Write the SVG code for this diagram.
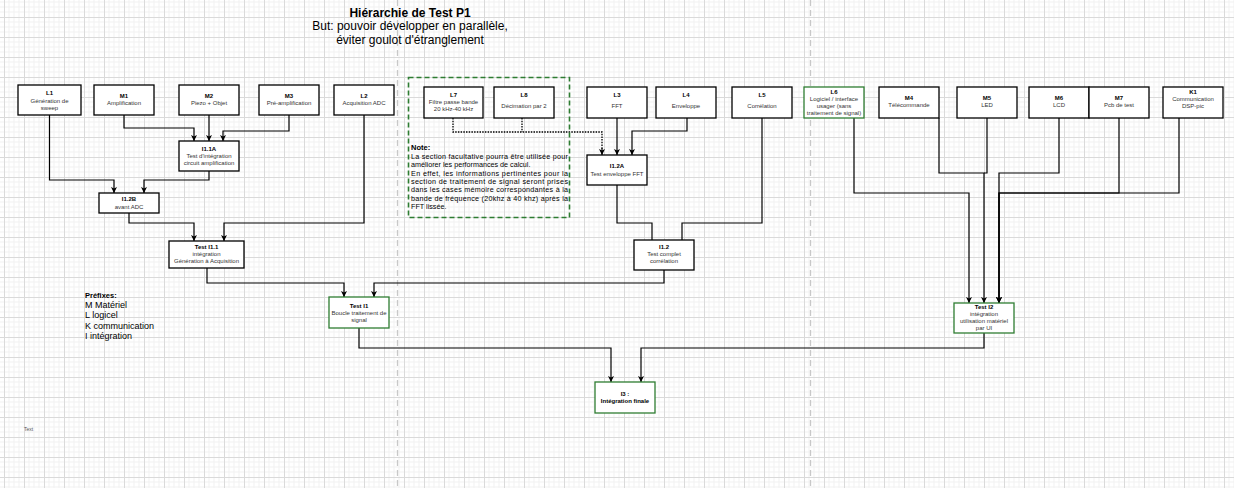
<svg xmlns="http://www.w3.org/2000/svg" width="1234" height="488" viewBox="0 0 1234 488">
<style>
text{font-family:"Liberation Sans",Arial,sans-serif}
.nb{fill:#fff;stroke:#000;stroke-width:1.3}
.ng{fill:#fff;stroke:#2e7d32;stroke-width:1.3}
.t{font-size:6px;fill:#333;text-anchor:middle}
.tb{font-size:6px;fill:#000;font-weight:bold;text-anchor:middle}
.c{fill:none;stroke:#000;stroke-width:1.2}
.ca{fill:none;stroke:#000;stroke-width:1.2;marker-end:url(#arr)}
.cd{fill:none;stroke:#000;stroke-width:1.3;stroke-dasharray:1.5 1.2}
.nt{font-size:7.2px;fill:#000}
.sep{stroke:#c8c8c8;stroke-width:1.3;stroke-dasharray:6 4}
</style>
<defs>
<pattern id="grid" x="4" y="17" width="20" height="20" patternUnits="userSpaceOnUse">
<path d="M5,0V20M10,0V20M15,0V20M0,5H20M0,10H20M0,15H20" stroke="#f1f1f1" stroke-width="1" fill="none"/>
<path d="M0.5,0V20M0,0.5H20" stroke="#dadada" stroke-width="1" fill="none"/>
</pattern>
<marker id="arr" markerUnits="userSpaceOnUse" markerWidth="7" markerHeight="7" refX="6" refY="3.5" orient="auto">
<path d="M0,0.5 L6,3.5 L0,6.5 L1.5,3.5 z" fill="#000"/>
</marker>
</defs>
<rect width="1234" height="488" fill="#fff"/>
<rect width="1234" height="488" fill="url(#grid)"/>
<line class="sep" x1="397.5" y1="0" x2="397.5" y2="488"/>
<line class="sep" x1="810.5" y1="0" x2="810.5" y2="488"/>

<g id="title">
<text x="410" y="17" font-size="12" font-weight="bold" text-anchor="middle">Hiérarchie de Test P1</text>
<text x="410" y="30" font-size="12" text-anchor="middle">But: pouvoir développer en parallèle,</text>
<text x="410" y="43.5" font-size="12" text-anchor="middle">éviter goulot d'étranglement</text>
</g>

<g id="connectors">
<path class="ca" d="M49.5,115 V180 H114 V193"/>
<path class="ca" d="M124,115 V128 H194 V141"/>
<path class="ca" d="M209,115 V141"/>
<path class="ca" d="M289,115 V131 H223 V141"/>
<path class="ca" d="M209,171 V180 H144 V193"/>
<path class="ca" d="M129,213 V223 H194 V241"/>
<path class="ca" d="M364,115 V223 H224 V241"/>
<path class="ca" d="M207,268 V283 H344 V297"/>
<path class="ca" d="M664,270 V283 H374 V297"/>
<path class="cd" d="M453,118 V132 H602 V149"/>
<path class="ca" d="M602,148 V155"/>
<path class="cd" d="M522,118 V132"/>
<path class="ca" d="M617,118 V155"/>
<path class="ca" d="M687,118 V131 H632 V155"/>
<path class="c" d="M617,185 V223 H652 V240"/>
<path class="c" d="M762,118 V223 H682 V240"/>
<path class="ca" d="M854,118 V193 H969 V303"/>
<path class="ca" d="M939,118 V173 H984 V303"/>
<path class="c" d="M987,118 V173 H984"/>
<path class="ca" d="M1059,118 V173 H999 V303"/>
<path class="ca" d="M1119,118 V193 H999 V303"/>
<path class="ca" d="M1179,118 V193 H999 V303"/>
<path class="ca" d="M359,328 V348 H611 V382"/>
<path class="ca" d="M984,333 V348 H641 V382"/>
</g>

<g id="optional-section">
<rect x="408.5" y="77.5" width="161" height="140" fill="none" stroke="#2e7d32" stroke-width="1.6" stroke-dasharray="5 3"/>
<text x="411" y="150" font-size="7.5" font-weight="bold">Note:</text>
<text class="nt" x="411" y="159" textLength="157" lengthAdjust="spacing">La section facultative pourra être utilisée pour</text>
<text class="nt" x="411" y="167.3">améliorer les performances de calcul.</text>
<text class="nt" x="411" y="175.6" textLength="157" lengthAdjust="spacing">En effet, les informations pertinentes pour la</text>
<text class="nt" x="411" y="183.9" textLength="157" lengthAdjust="spacing">section de traitement de signal seront prises</text>
<text class="nt" x="411" y="192.2" textLength="157" lengthAdjust="spacing">dans les cases mémoire correspondantes à la</text>
<text class="nt" x="411" y="200.5" textLength="157" lengthAdjust="spacing">bande de fréquence (20khz à 40 khz) après la</text>
<text class="nt" x="411" y="208.8">FFT lissée.</text>
</g>

<g id="L1"><rect class="nb" x="18" y="85" width="63" height="30"/><text class="tb" x="49.5" y="95.2">L1</text><text class="t" x="49.5" y="103.4">Génération de</text><text class="t" x="49.5" y="110.2">sweep</text></g>
<g id="M1"><rect class="nb" x="94" y="85" width="60" height="30"/><text class="tb" x="124" y="97.5">M1</text><text class="t" x="124" y="105.2">Amplification</text></g>
<g id="M2"><rect class="nb" x="179" y="85" width="60" height="30"/><text class="tb" x="209" y="97.5">M2</text><text class="t" x="209" y="105.2">Piezo + Objet</text></g>
<g id="M3"><rect class="nb" x="259" y="85" width="60" height="30"/><text class="tb" x="289" y="97.5">M3</text><text class="t" x="289" y="105.2">Pré-amplification</text></g>
<g id="L2"><rect class="nb" x="334" y="85" width="60" height="30"/><text class="tb" x="364" y="97.5">L2</text><text class="t" x="364" y="105.2">Acquisition ADC</text></g>

<g id="L7"><rect class="nb" x="424" y="87" width="59" height="31"/><text class="tb" x="453.5" y="97.2">L7</text><text class="t" x="453.5" y="104.2">Filtre passe bande</text><text class="t" x="453.5" y="111.2">20 kHz-40 kHz</text></g>
<g id="L8"><rect class="nb" x="494" y="87" width="60" height="31"/><text class="tb" x="524" y="97.2">L8</text><text class="t" x="524" y="107.5">Décimation par 2</text></g>
<g id="L3"><rect class="nb" x="587" y="87" width="60" height="31"/><text class="tb" x="617" y="97.2">L3</text><text class="t" x="617" y="107.8">FFT</text></g>
<g id="L4"><rect class="nb" x="656" y="87" width="60" height="31"/><text class="tb" x="686" y="97.2">L4</text><text class="t" x="686" y="107.8">Enveloppe</text></g>
<g id="L5"><rect class="nb" x="732" y="87" width="60" height="31"/><text class="tb" x="762" y="97.2">L5</text><text class="t" x="762" y="107.8">Corrélation</text></g>

<g id="L6"><rect class="ng" x="804" y="87" width="60" height="31"/><text class="tb" x="834" y="94">L6</text><text class="t" x="834" y="100.8">Logiciel / interface</text><text class="t" x="834" y="107.8">usager (sans</text><text class="t" x="834" y="115">traitement de signal)</text></g>
<g id="M4"><rect class="nb" x="879" y="87" width="60" height="31"/><text class="tb" x="909" y="99.5">M4</text><text class="t" x="909" y="107.2">Télécommande</text></g>
<g id="M5"><rect class="nb" x="957" y="87" width="60" height="31"/><text class="tb" x="987" y="99.5">M5</text><text class="t" x="987" y="107.2">LED</text></g>
<g id="M6"><rect class="nb" x="1029" y="87" width="60" height="31"/><text class="tb" x="1059" y="99.5">M6</text><text class="t" x="1059" y="107.2">LCD</text></g>
<g id="M7"><rect class="nb" x="1089" y="87" width="60" height="31"/><text class="tb" x="1119" y="99.5">M7</text><text class="t" x="1119" y="107.2">Pcb de test</text></g>
<g id="K1"><rect class="nb" x="1163" y="87" width="60" height="31"/><text class="tb" x="1193" y="94">K1</text><text class="t" x="1193" y="101.2">Communication</text><text class="t" x="1193" y="108">DSP-pic</text></g>

<g id="I1.1A"><rect class="nb" x="179" y="141" width="60" height="30"/><text class="tb" x="209" y="151.2">I1.1A</text><text class="t" x="209" y="158">Test d'intégration</text><text class="t" x="209" y="165">circuit amplification</text></g>
<g id="I1.2B"><rect class="nb" x="99" y="193" width="60" height="20"/><text class="tb" x="129" y="201.2">I1.2B</text><text class="t" x="129" y="208.5">avant ADC</text></g>
<g id="TestI1.1"><rect class="nb" x="169" y="241" width="75" height="27"/><text class="tb" x="206.5" y="249">Test I1.1</text><text class="t" x="206.5" y="255.8">intégration</text><text class="t" x="206.5" y="262.9">Génération à Acquisition</text></g>
<g id="I1.2A"><rect class="nb" x="587" y="155" width="60" height="30"/><text class="tb" x="617" y="168">I1.2A</text><text class="t" x="617" y="175.5">Test enveloppe FFT</text></g>
<g id="I1.2"><rect class="nb" x="634" y="240" width="60" height="30"/><text class="tb" x="664" y="249">I1.2</text><text class="t" x="664" y="256.2">Test complet</text><text class="t" x="664" y="263.2">corrélation</text></g>
<g id="TestI1"><rect class="ng" x="329" y="297" width="60" height="31"/><text class="tb" x="359" y="308.2">Test I1</text><text class="t" x="359" y="315.2">Boucle traitement de</text><text class="t" x="359" y="322.2">signal</text></g>
<g id="TestI2"><rect class="ng" x="954" y="303" width="60" height="30"/><text class="tb" x="984" y="309">Test I2</text><text class="t" x="984" y="316.2">intégration</text><text class="t" x="984" y="323.2">utilisation matériel</text><text class="t" x="984" y="330.2">par UI</text></g>
<g id="I3"><rect class="ng" x="595" y="382" width="60" height="31"/><text class="tb" x="625" y="396.2">I3 :</text><text class="tb" x="625" y="403.2">Intégration finale</text></g>

<g id="legend">
<text x="85" y="298" font-size="7.5" font-weight="bold">Préfixes:</text>
<text x="85" y="308" font-size="9">M Matériel</text>
<text x="85" y="318.4" font-size="9">L logicel</text>
<text x="85" y="328.7" font-size="9">K communication</text>
<text x="85" y="339" font-size="9">I intégration</text>
</g>
<text x="24" y="431" font-size="5" fill="#555">Text</text>
</svg>
